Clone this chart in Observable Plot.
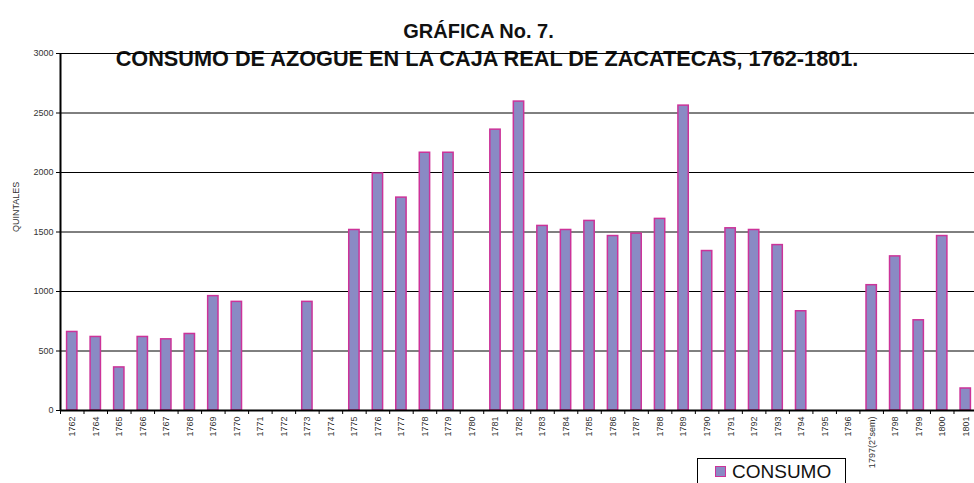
<!DOCTYPE html>
<html>
<head>
<meta charset="utf-8">
<script src="https://cdn.jsdelivr.net/npm/d3@7"></script>
<script src="https://cdn.jsdelivr.net/npm/@observablehq/plot@0.6"></script>
<style>
  html, body { margin: 0; padding: 0; background: #fff; }
  #wrap { position: relative; width: 974px; height: 483px; overflow: hidden; font-family: "Liberation Sans", Arial, sans-serif; }
  #wrap svg { position: absolute; left: 0; top: 0; display: block; }
  #legend { position: absolute; left: 697px; top: 458px; width: 147px; height: 30px; border: 1.5px solid #000; background: #fff; box-sizing: content-box; }
  #legend .sw { position: absolute; left: 17px; top: 7px; width: 9px; height: 9px; background: #8a8ac4; border: 1.5px solid #cc3399; }
  #legend .lb { position: absolute; left: 34px; top: 2px; font-size: 19px; line-height: 22px; color: #111; }
</style>
</head>
<body>
<div id="wrap"><div id="legend"><div class="sw"></div><div class="lb">CONSUMO</div></div></div>
<script>
const title1 = "GRÁFICA No. 7.";
const title2 = "CONSUMO DE AZOGUE EN LA CAJA REAL DE ZACATECAS, 1762-1801.";
const yLabel = "QUINTALES";
const seriesName = "CONSUMO";

const years = ["1762","1764","1765","1766","1767","1768","1769","1770","1771","1772","1773","1774",
  "1775","1776","1777","1778","1779","1780","1781","1782","1783","1784","1785","1786","1787",
  "1788","1789","1790","1791","1792","1793","1794","1795","1796","1797(2°sem)","1798","1799","1800","1801"];
const consumo = [660,618,362,618,598,643,961,913,0,0,913,0,
  1517,1992,1789,2166,2166,0,2360,2596,1551,1517,1593,1466,1486,
  1610,2562,1340,1531,1517,1390,834,0,0,1053,1295,758,1466,185];
const yTicks = [0,500,1000,1500,2000,2500,3000];

const data = years.map((y, i) => ({year: y, value: consumo[i]}));

const W = 974, H = 483, mL = 60, mR = -3, mT = 53, mB = 73;
const step = (W - mR - mL) / years.length;

const chart = Plot.plot({
  width: W,
  height: H,
  marginLeft: mL,
  marginRight: mR,
  marginTop: mT,
  marginBottom: mB,
  style: {fontFamily: "'Liberation Sans', Arial, sans-serif", fontSize: "9px", background: "transparent", overflow: "visible", color: "#000"},
  x: {type: "band", domain: years, paddingInner: 0.56, paddingOuter: 0.28, round: false, label: null},
  y: {domain: [0, 3000], label: null},
  marks: [
    Plot.text([title1], {frameAnchor: "top-left", dx: 418, dy: -30, fontSize: 20, fontWeight: "bold", fill: "#111", textAnchor: "middle"}),
    Plot.text([title2], {frameAnchor: "top-left", dx: 426.5, dy: -3.4, fontSize: 21.7, fontWeight: "bold", fill: "#111", textAnchor: "middle"}),
    Plot.gridY(yTicks, {stroke: "#000", strokeOpacity: 1, strokeWidth: 1}),
    Plot.barY(data, {x: "year", y: "value", fill: "#8a8ac4", stroke: "#cc3399", strokeWidth: 1.5}),
    Plot.ruleY([0], {stroke: "#000", strokeWidth: 2}),
    Plot.ruleX([years[0]], {x: d => d, dx: -step / 2, y1: 0, y2: 3000, stroke: "#000", strokeWidth: 2}),
    Plot.axisY(yTicks, {tickSize: 4, tickPadding: 3, tickFormat: d => String(d), stroke: "#000", fill: "#333", fontSize: 9, label: null}),
    Plot.axisX({tickSize: 4, tickFormat: () => "", dx: -step / 2, stroke: "#000", label: null}),
    Plot.axisX({tickSize: 0, tickPadding: 6, tickRotate: -90, fill: "#333", fontSize: 9, label: null}),
    Plot.text([yLabel], {frameAnchor: "left", rotate: -90, dx: -44, fill: "#333", fontSize: 9})
  ]
});
document.getElementById("wrap").prepend(chart);
</script>
</body>
</html>
